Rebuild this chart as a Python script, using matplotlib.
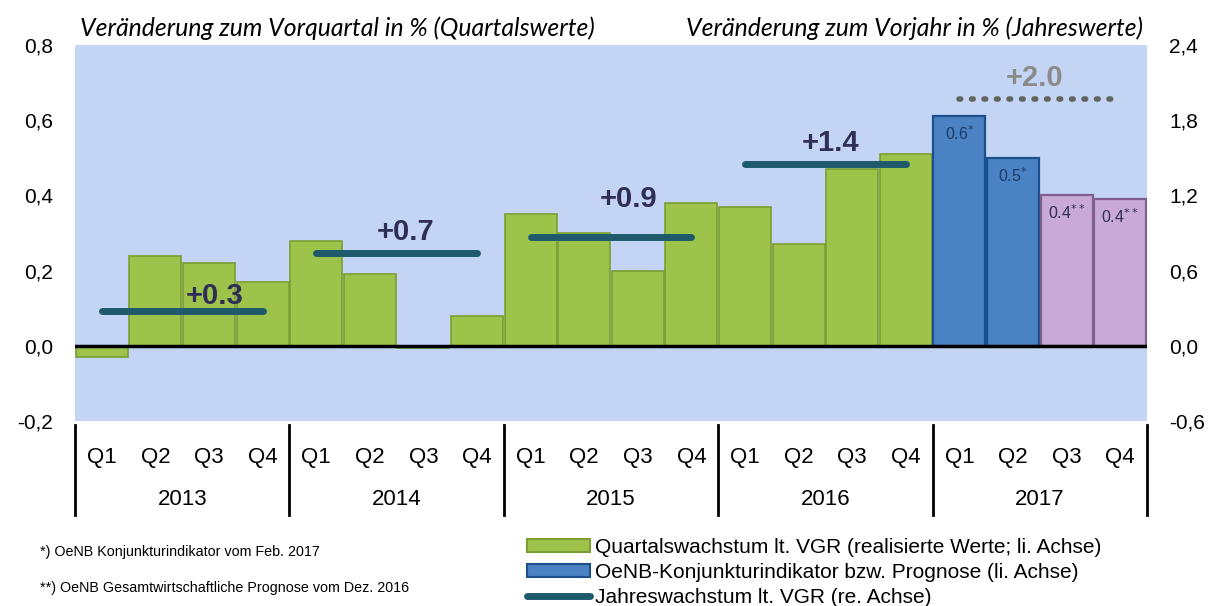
import matplotlib
matplotlib.use('Agg')
import matplotlib.pyplot as plt
import matplotlib.transforms as mtransforms
from matplotlib.patches import Patch
from matplotlib.lines import Line2D

plt.rcParams['font.family'] = ['Liberation Sans', 'DejaVu Sans']

years = ['2013', '2014', '2015', '2016', '2017']
quarters = ['Q1', 'Q2', 'Q3', 'Q4']
# quarterly growth (left axis)
q_growth = [-0.03, 0.24, 0.22, 0.17,
            0.28, 0.19, -0.005, 0.08,
            0.35, 0.30, 0.20, 0.38,
            0.37, 0.27, 0.47, 0.51]
indicator = [0.61, 0.50]          # OeNB Konjunkturindikator 2017 Q1-Q2
forecast = [0.40, 0.39]           # OeNB Prognose 2017 Q3-Q4
indicator_labels = ['0.6$^{*}$', '0.5$^{*}$']
forecast_labels = ['0.4$^{**}$', '0.4$^{**}$']
# annual growth (right axis)
annual = [0.28, 0.74, 0.87, 1.45]
annual_labels = ['+0.3', '+0.7', '+0.9', '+1.4']
annual_2017 = 1.97
annual_2017_label = '+2.0'

green, green_edge = '#9dc34a', '#7d9e32'
blue, blue_edge = '#4a82c4', '#1d4f8c'
pink, pink_edge = '#c9a9d6', '#7e5f8f'
teal = '#1e5a6c'
navy = '#2e2e58'
bg = '#c4d4f4'

fig = plt.figure(figsize=(12.13, 6.06), dpi=100)
ax = fig.add_axes([75 / 1213, 1 - 421 / 606, 1072 / 1213, 376 / 606])
ax.set_facecolor(bg)
ax.set_xlim(-0.5, 19.5)
ax.set_ylim(-0.2, 0.8)

xq = list(range(16))
ax.bar(xq, q_growth, width=0.97, color=green, edgecolor=green_edge, linewidth=1.2, zorder=2)
ax.bar([16, 17], indicator, width=0.97, color=blue, edgecolor=blue_edge, linewidth=1.6, zorder=2)
ax.bar([18, 19], forecast, width=0.97, color=pink, edgecolor=pink_edge, linewidth=1.6, zorder=2)
for x, v, s in zip([16, 17], indicator, indicator_labels):
    ax.text(x, v - 0.022, s, ha='center', va='top', fontsize=11.5, color='#1f3a66', zorder=4)
for x, v, s in zip([18, 19], forecast, forecast_labels):
    ax.text(x, v - 0.022, s, ha='center', va='top', fontsize=11.5, color='#2e2e58', zorder=4)

ax.axhline(0, color='black', linewidth=2.5, zorder=3)

ax.set_yticks([-0.2, 0.0, 0.2, 0.4, 0.6, 0.8])
ax.set_yticklabels(['-0,2', '0,0', '0,2', '0,4', '0,6', '0,8'], fontsize=15)
ax.tick_params(axis='y', length=0, pad=16)
ax.set_xticks([])
for sp in ax.spines.values():
    sp.set_visible(False)

ax2 = ax.twinx()
ax2.set_ylim(-0.6, 2.4)
ax2.set_yticks([-0.6, 0.0, 0.6, 1.2, 1.8, 2.4])
ax2.set_yticklabels(['-0,6', '0,0', '0,6', '1,2', '1,8', '2,4'], fontsize=15)
ax2.tick_params(axis='y', length=0, pad=16)
for sp in ax2.spines.values():
    sp.set_visible(False)

label_pos = [(2.11, 0.40), (5.66, 0.91), (9.82, 1.17), (13.59, 1.62)]
for i, (v, s) in enumerate(zip(annual, annual_labels)):
    ax2.plot([4 * i, 4 * i + 3], [v, v], color=teal, linewidth=5, solid_capstyle='round', zorder=5)
    ax2.text(label_pos[i][0], label_pos[i][1], s, ha='center', va='center',
             fontsize=21, fontweight='bold', color=navy, zorder=6)
ax2.plot([16, 18.85], [annual_2017, annual_2017], color='#5f6560', linewidth=4,
         linestyle=(0, (0.3, 1.95)), dash_capstyle='round', zorder=5)
ax2.text(17.41, 2.14, annual_2017_label, ha='center', va='center', fontsize=21,
         fontweight='bold', color='#8a8a8a', zorder=6)

# category axis below the plot
trans = mtransforms.blended_transform_factory(ax.transData, ax.transAxes)
for i in range(20):
    ax.text(i, -0.098, quarters[i % 4], transform=trans, ha='center', va='center', fontsize=16)
for j, y in enumerate(years):
    ax.text(4 * j + 1.5, -0.21, y, transform=trans, ha='center', va='center', fontsize=16)
for b in range(6):
    ax.plot([4 * b - 0.5, 4 * b - 0.5], [-0.01, -0.25], transform=trans, color='black',
            linewidth=2, clip_on=False)

fig.text(80 / 1213, 1 - 28 / 606, 'Veränderung zum Vorquartal in % (Quartalswerte)',
         fontsize=17.8, style='italic', family='Lato', ha='left', va='center')
fig.text(1143 / 1213, 1 - 28 / 606, 'Veränderung zum Vorjahr in % (Jahreswerte)',
         fontsize=17.8, style='italic', family='Lato', ha='right', va='center')

fig.text(40 / 1213, 1 - 552 / 606, '*) OeNB Konjunkturindikator vom Feb. 2017', fontsize=10.3, va='center')
fig.text(40 / 1213, 1 - 588 / 606, '**) OeNB Gesamtwirtschaftliche Prognose vom Dez. 2016', fontsize=10.3, va='center')

handles = [Patch(facecolor=green, edgecolor=green_edge, linewidth=1.5),
           Patch(facecolor=blue, edgecolor=blue_edge, linewidth=1.5),
           Line2D([], [], color=teal, linewidth=5, solid_capstyle='round')]
labels = ['Quartalswachstum lt. VGR (realisierte Werte; li. Achse)',
          'OeNB-Konjunkturindikator bzw. Prognose (li. Achse)',
          'Jahreswachstum lt. VGR (re. Achse)']
fig.legend(handles, labels, loc='upper left', bbox_to_anchor=(527 / 1213, 1 - 538 / 606),
           frameon=False, fontsize=15, handlelength=3.0, handleheight=0.6,
           handletextpad=0.25, labelspacing=0.28, borderpad=0, borderaxespad=0)

fig.savefig('out.png', dpi=100)
